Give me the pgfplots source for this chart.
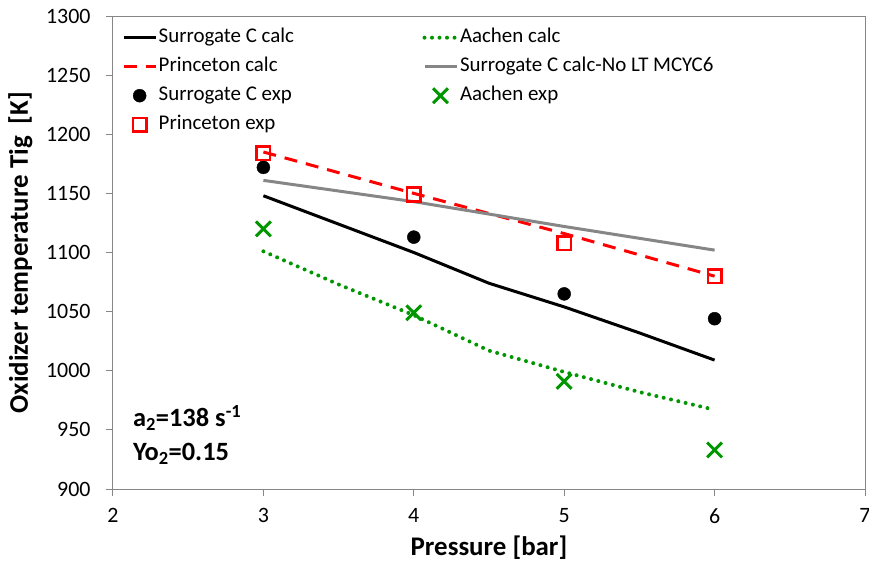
\documentclass[border=0pt]{standalone}
\usepackage{pgfplots}
\pgfplotsset{compat=1.18}
\usepackage{fontspec}
\setmainfont{Carlito}
\definecolor{xlred}{RGB}{255,0,0}
\definecolor{xlgreen}{RGB}{0,150,0}
\definecolor{xlgray}{RGB}{134,134,134}
\definecolor{axgray}{RGB}{134,134,134}
\pgfplotsset{
  lineleg/.style={legend image code/.code={\draw[##1] (0bp,0bp) -- (32bp,0bp);}},
  markleg/.style={legend image code/.code={\draw[##1] plot coordinates {(16bp,0bp)};}},
}
\begin{document}
\begin{tikzpicture}
\begin{axis}[
  at={(0,0)}, anchor=south west,
  scale only axis, width=752bp, height=473bp,
  xmin=2, xmax=7, ymin=900, ymax=1300,
  xtick={2,3,4,5,6,7}, ytick={900,950,1000,1050,1100,1150,1200,1250,1300},
  xtick pos=lower, ytick pos=left,
  axis line style={axgray, line width=1bp},
  tick style={axgray, line width=1bp},
  tick align=outside, major tick length=7bp,
  tick label style={font=\fontsize{22}{26}\selectfont, black},
  yticklabel style={xshift=-12bp},
  xticklabel style={yshift=-9bp},
  /pgf/number format/assume math mode=true,
  /pgf/number format/1000 sep={},
  every axis x label/.style={at={(axis description cs:0.5,0)}, yshift=-66bp, anchor=base, font=\fontsize{27}{32}\selectfont\bfseries},
  every axis y label/.style={at={(axis description cs:0,0.5)}, xshift=-85bp, rotate=90, anchor=base, font=\fontsize{27}{32}\selectfont\bfseries},
  xlabel={Pressure [bar]},
  ylabel={Oxidizer temperature Tig\ \ [K]},
  legend columns=2,
  legend cell align=left,
  legend style={at={(axis description cs:0,1)}, anchor=north west, xshift=6bp, yshift=-8bp,
    draw=none, fill=none, font=\fontsize{21}{25}\selectfont,
    nodes={inner sep=1.5bp, text height=15bp, text depth=5bp},
    row sep=6bp,
    /tikz/every even column/.append style={column sep=127bp}},
  lineleg,
]
\addplot[black, line width=3bp] coordinates {(3,1148) (3.5,1124) (4,1100) (4.5,1074) (5,1054) (5.5,1032) (6,1009)};
\addlegendentry{Surrogate C calc}
\addplot[xlgreen, line width=4bp, line cap=round, dash pattern=on 0bp off 7.5bp] coordinates {(3,1101) (3.5,1073) (4,1047) (4.5,1017) (5,999) (5.5,982) (6,967)};
\addlegendentry{Aachen calc}
\addplot[xlred, line width=3bp, dash pattern=on 13bp off 9bp] coordinates {(3,1185) (4,1150) (5,1116) (6,1080)};
\addlegendentry{Princeton calc}
\addplot[xlgray, line width=3bp] coordinates {(3,1161) (4,1143) (5,1122) (6,1102)};
\addlegendentry{Surrogate C calc-No LT MCYC6}
\addplot[only marks, mark=*, mark size=6.5bp, black, markleg] coordinates {(3,1172) (4,1113) (5,1065) (6,1044)};
\addlegendentry{Surrogate C exp}
\addplot[only marks, mark=x, mark size=10.5bp, xlgreen, line width=3bp, markleg] coordinates {(3,1120) (4,1049) (5,991) (6,933)};
\addlegendentry{Aachen exp}
\addplot[only marks, mark=square, mark size=6.8bp, xlred, line width=2.6bp, markleg] coordinates {(3,1184) (4,1149) (5,1108) (6,1080)};
\addlegendentry{Princeton exp}
\node[anchor=base west, font=\fontsize{26.5}{31}\selectfont\bfseries] at (axis cs:2.11,953) {a\textsubscript{2}=138 s\textsuperscript{-1}};
\node[anchor=base west, font=\fontsize{26.5}{31}\selectfont\bfseries] at (axis cs:2.11,924) {Yo\textsubscript{2}=0.15};
\end{axis}
\pgfresetboundingbox
\path (-113bp,-74bp) rectangle (756bp,489bp);
\end{tikzpicture}
\end{document}
